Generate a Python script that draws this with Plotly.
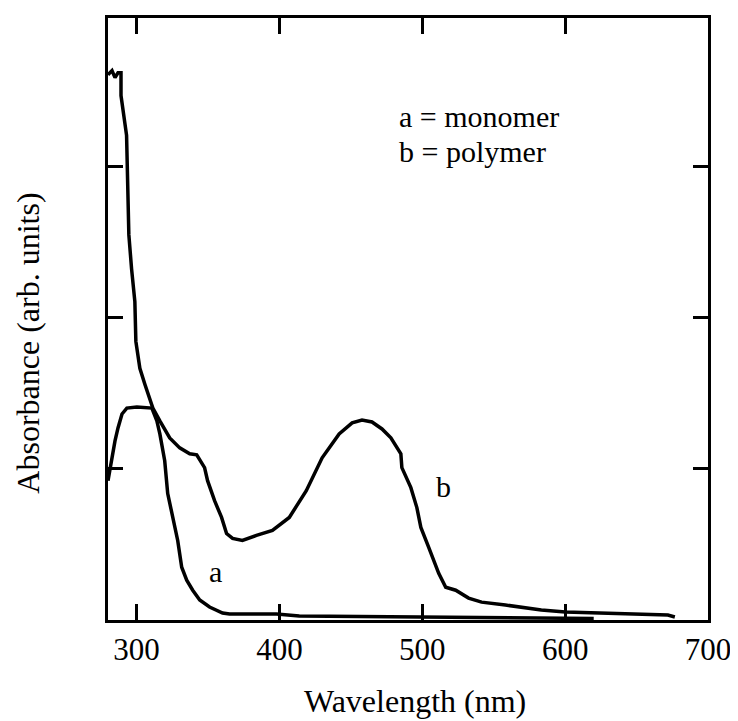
import plotly.graph_objects as go

# Curve a (monomer)
wl_a = [280.0, 281.4, 284.9, 287.0, 289.8, 293.2, 300.2, 310.7, 314.2, 316.3, 319.7,
        321.8, 325.3, 328.8, 331.6, 335.1, 339.3, 344.2, 351.1, 360.2, 365.1, 397.9,
        413.9, 497.6, 598.7, 620.0]
abs_a = [0.921, 1.007, 1.184, 1.270, 1.362, 1.401, 1.408, 1.401, 1.316, 1.230, 1.053,
         0.836, 0.678, 0.526, 0.349, 0.263, 0.197, 0.132, 0.086, 0.046, 0.039, 0.039,
         0.026, 0.020, 0.013, 0.010]

# Curve b (polymer)
wl_b = [280.0, 282.8, 284.9, 287.0, 289.1, 289.1, 293.0, 294.6, 296.5, 298.8, 299.5,
        302.3, 305.8, 311.4, 316.3, 323.2, 330.2, 337.2, 342.1, 347.6, 349.7, 354.6,
        359.5, 363.0, 367.2, 374.1, 383.9, 395.1, 406.9, 418.8, 429.9, 441.8, 450.9,
        457.8, 464.8, 471.8, 478.0, 485.0, 485.7, 492.0, 496.2, 499.0, 504.5, 508.0,
        511.5, 516.4, 523.4, 532.4, 541.5, 558.2, 572.2, 583.3, 600.1, 621.0, 671.9,
        676.8]
abs_b = [3.605, 3.632, 3.586, 3.618, 3.618, 3.467, 3.204, 2.546, 2.322, 2.105, 1.842,
         1.664, 1.559, 1.401, 1.316, 1.204, 1.138, 1.099, 1.092, 1.007, 0.921, 0.789,
         0.678, 0.572, 0.539, 0.526, 0.559, 0.592, 0.678, 0.855, 1.072, 1.230, 1.303,
         1.322, 1.309, 1.263, 1.204, 1.099, 1.007, 0.875, 0.743, 0.612, 0.480, 0.395,
         0.309, 0.217, 0.197, 0.145, 0.118, 0.099, 0.079, 0.066, 0.053, 0.046, 0.033,
         0.020]

x_ticks = [300, 400, 500, 600, 700]
y_ticks = [1, 2, 3]

FONT = "Liberation Serif"

fig = go.Figure()
fig.add_trace(go.Scatter(x=wl_a, y=abs_a, mode="lines",
                         line=dict(color="black", width=3.5), showlegend=False))
fig.add_trace(go.Scatter(x=wl_b, y=abs_b, mode="lines",
                         line=dict(color="black", width=3.5), showlegend=False))

# page body adds an 8px offset; size the figure so it fits in the window
fig.update_layout(
    width=730, height=713,
    margin=dict(l=100, r=26, t=7, b=101),
    paper_bgcolor="white", plot_bgcolor="white",
    font=dict(family=FONT, color="black", size=30),
    showlegend=False,
)
fig.update_xaxes(range=[280, 700], tickvals=x_ticks, ticks="inside", ticklen=16,
                 tickwidth=2.5, tickcolor="black", showline=True, linewidth=3,
                 linecolor="black", mirror="ticks", showgrid=False, zeroline=False,
                 tickfont=dict(size=31, family=FONT))
fig.update_yaxes(range=[0, 3.98], tickvals=y_ticks, ticks="inside", ticklen=15,
                 tickwidth=2.5, tickcolor="black", showline=True, linewidth=3,
                 linecolor="black", mirror="ticks", showgrid=False, zeroline=False,
                 showticklabels=False)

fig.add_annotation(text="Absorbance (arb. units)", xref="paper", yref="paper",
                   x=-0.134, y=0.46, xanchor="center", yanchor="middle",
                   textangle=-90, showarrow=False,
                   font=dict(size=32, family=FONT))
fig.add_annotation(text="Wavelength (nm)", xref="paper", yref="paper",
                   x=0.512, y=-0.134, xanchor="center", yanchor="middle",
                   showarrow=False, font=dict(size=32, family=FONT))
fig.add_annotation(text="a = monomer", x=482, y=3.33, xanchor="left", yanchor="middle",
                   showarrow=False, font=dict(size=30, family=FONT))
fig.add_annotation(text="b = polymer", x=482, y=3.10, xanchor="left", yanchor="middle",
                   showarrow=False, font=dict(size=30, family=FONT))
fig.add_annotation(text="a", x=355.3, y=0.32, showarrow=False,
                   font=dict(size=30, family=FONT))
fig.add_annotation(text="b", x=515, y=0.88, showarrow=False,
                   font=dict(size=30, family=FONT))

fig.write_html("out.html")
